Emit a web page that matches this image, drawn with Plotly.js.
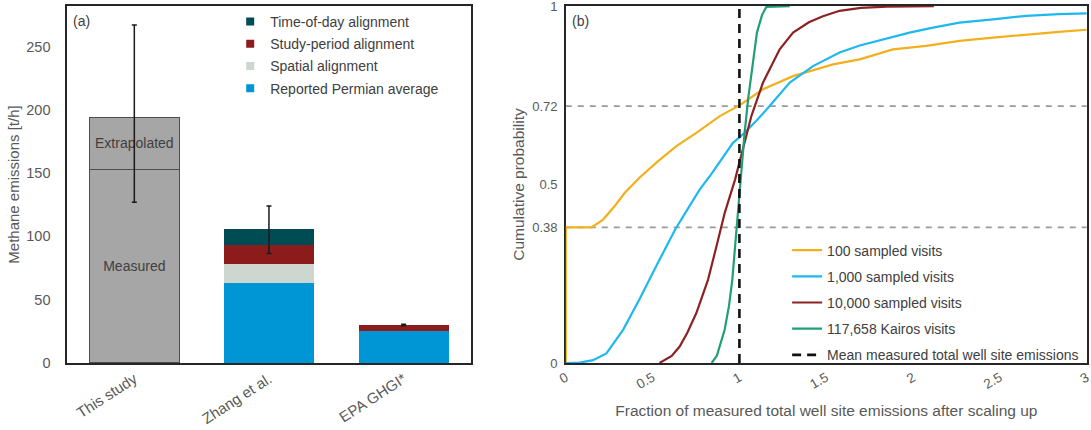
<!DOCTYPE html>
<html>
<head>
<meta charset="utf-8">
<script src="https://cdn.plot.ly/plotly-3.0.1.min.js"></script>
<style>html,body{margin:0;padding:0;background:#fff;}#chart{width:1091px;height:430px;}</style>
</head>
<body>
<div id="chart"></div>
<script>
// ---------- Panel (a) data ----------
const barCats = ['This study', 'Zhang et al.', 'EPA GHGI*'];
const measured = [153, null, null];
const extrapolated = [41, null, null];
const reportedPermian = [null, 63, 25];
const spatialAlign = [null, 15, 0];
const studyPeriodAlign = [null, 15, 5];
const timeOfDayAlign = [null, 13, 0];
const barTotals = [194, 106, 30];
const errPlus = [73, 18, 0.6];
const errMinus = [67, 19.5, 0.6];
const yTicksA = [0, 50, 100, 150, 200, 250];

// ---------- Panel (b) data ----------
const x100 = [0, 0, 0.08, 0.148, 0.215, 0.282, 0.34, 0.426, 0.53, 0.637, 0.752, 0.887, 1.0, 1.136, 1.309, 1.539, 1.693, 1.884, 2.076, 2.268, 2.46, 2.652, 2.84, 3.0];
const y100 = [0, 0.38, 0.38, 0.38, 0.402, 0.44, 0.477, 0.52, 0.565, 0.608, 0.645, 0.692, 0.722, 0.767, 0.804, 0.837, 0.851, 0.879, 0.889, 0.903, 0.912, 0.921, 0.928, 0.934];
const x1000 = [0, 0.08, 0.157, 0.234, 0.33, 0.426, 0.53, 0.63, 0.70, 0.771, 0.839, 0.963, 1.03, 1.10, 1.174, 1.29, 1.424, 1.577, 1.693, 1.827, 1.98, 2.115, 2.268, 2.46, 2.652, 2.84, 3.0];
const y1000 = [0, 0.001, 0.008, 0.027, 0.093, 0.18, 0.28, 0.374, 0.43, 0.486, 0.53, 0.617, 0.645, 0.68, 0.72, 0.786, 0.832, 0.87, 0.89, 0.907, 0.926, 0.94, 0.954, 0.963, 0.973, 0.978, 0.98];
const x10000 = [0.54, 0.57, 0.61, 0.656, 0.70, 0.752, 0.819, 0.868, 0.915, 0.975, 1.021, 1.069, 1.136, 1.232, 1.309, 1.40, 1.481, 1.577, 1.70, 1.85, 2.12];
const y10000 = [0, 0.008, 0.02, 0.046, 0.085, 0.14, 0.233, 0.327, 0.42, 0.514, 0.598, 0.692, 0.786, 0.879, 0.926, 0.955, 0.972, 0.987, 0.995, 0.999, 1.0];
const xKairos = [0.84, 0.87, 0.915, 0.94, 0.959, 0.982, 1.0, 1.011, 1.03, 1.05, 1.075, 1.101, 1.13, 1.155, 1.29];
const yKairos = [0, 0.02, 0.093, 0.16, 0.233, 0.374, 0.48, 0.551, 0.645, 0.739, 0.832, 0.926, 0.975, 0.998, 1.0];
const refLevels = [0.38, 0.72];
const xRange = [0, 3];
const meanX = [1, 1];
const meanY = [0, 1];
const yTicksB = [0, 0.38, 0.5, 0.72, 1];
const yTickTextB = ['0', '0.38', '0.5', '0.72', '1'];
const xTicksB = [0, 0.5, 1, 1.5, 2, 2.5, 3];
const xTickTextB = ['0', '0.5', '1', '1.5', '2', '2.5', '3'];

const FONT = 'Liberation Sans, Arial, sans-serif';
const GRAY_TXT = '#595959';
const C = {
  tod: '#004c54', sp: '#8c1c1c', spa: '#cdd6cf', rep: '#0096d6', study: '#a6a6a6',
  c100: '#f2b01e', c1000: '#1fb8ee', c10000: '#8c2222', cK: '#1f9e78'
};

const traces = [];
// This study (measured + extrapolated)
traces.push({type: 'bar', x: barCats, y: measured, text: ['Measured', '', ''], textposition: 'inside', insidetextanchor: 'middle',
  constraintext: 'none', textfont: {family: FONT, size: 14, color: '#404040'},
  marker: {color: C.study, line: {color: '#4d4d4d', width: 1.3}}, width: 0.67, showlegend: false, hoverinfo: 'skip'});
traces.push({type: 'bar', x: barCats, y: extrapolated, text: ['Extrapolated', '', ''], textposition: 'inside', insidetextanchor: 'middle',
  constraintext: 'none', textfont: {family: FONT, size: 14, color: '#404040'},
  marker: {color: C.study, line: {color: '#4d4d4d', width: 1.3}}, width: 0.67, showlegend: false, hoverinfo: 'skip'});
// stacked components
const comps = [
  {y: reportedPermian, c: C.rep},
  {y: spatialAlign, c: C.spa},
  {y: studyPeriodAlign, c: C.sp},
  {y: timeOfDayAlign, c: C.tod}
];
comps.forEach(o => traces.push({type: 'bar', x: barCats, y: o.y, marker: {color: o.c, line: {width: 0}}, width: 0.67, showlegend: false}));
// error bars
traces.push({type: 'scatter', mode: 'markers', x: barCats, y: barTotals, marker: {size: 1, color: 'rgba(0,0,0,0)'},
  error_y: {type: 'data', symmetric: false, array: errPlus, arrayminus: errMinus, color: '#1a1a1a', thickness: 1.5, width: 2.5},
  showlegend: false, hoverinfo: 'skip'});
// legend proxies (a)
const legA = [
  ['Time-of-day alignment', C.tod],
  ['Study-period alignment', C.sp],
  ['Spatial alignment', C.spa],
  ['Reported Permian average', C.rep]
];
legA.forEach((l, i) => traces.push({type: 'scatter', mode: 'markers', x: [null], y: [null], name: l[0], legend: 'legend', legendgroup: 'a' + i,
  marker: {symbol: 'square', size: 8, color: l[1]}}));

// Panel (b)
refLevels.forEach(v => traces.push({type: 'scatter', mode: 'lines', x: xRange, y: [v, v], xaxis: 'x2', yaxis: 'y2',
  line: {color: '#9a9a9a', width: 1.6, dash: '6px,6px'}, showlegend: false, hoverinfo: 'skip'}));
const curves = [
  ['100 sampled visits', x100, y100, C.c100],
  ['1,000 sampled visits', x1000, y1000, C.c1000],
  ['10,000 sampled visits', x10000, y10000, C.c10000],
  ['117,658 Kairos visits', xKairos, yKairos, C.cK]
];
curves.forEach((c, i) => traces.push({type: 'scatter', mode: 'lines', x: c[1], y: c[2], name: c[0], xaxis: 'x2', yaxis: 'y2',
  legend: 'legend2', legendgroup: 'b' + i, line: {color: c[3], width: 2.2}, cliponaxis: false}));
traces.push({type: 'scatter', mode: 'lines', x: meanX, y: meanY, name: 'Mean measured total well site emissions', xaxis: 'x2', yaxis: 'y2',
  legend: 'legend2', legendgroup: 'b9', line: {color: '#111', width: 2.6, dash: '9px,6px'}});

const axBase = {showline: true, mirror: true, linecolor: '#262626', linewidth: 1.6, showgrid: false, zeroline: false, ticks: '',
  tickfont: {family: FONT, size: 14.5, color: GRAY_TXT}, ticklabeloverflow: 'allow'};

const layout = {
  width: 1091, height: 430,
  margin: {l: 67, r: 4, t: 6, b: 67},
  paper_bgcolor: '#fff', plot_bgcolor: '#fff',
  font: {family: FONT, color: GRAY_TXT},
  barmode: 'stack',
  xaxis: Object.assign({}, axBase, {domain: [0, 0.396], type: 'category', tickangle: -33, range: [-0.5, 2.5],
    tickfont: {family: FONT, size: 15, color: GRAY_TXT}}),
  yaxis: Object.assign({}, axBase, {range: [0, 282], tickvals: yTicksA, ticklabelstandoff: 12,
    title: {text: 'Methane emissions [t/h]', font: {family: FONT, size: 15, color: GRAY_TXT}, standoff: 3}}),
  xaxis2: Object.assign({}, axBase, {domain: [0.489, 1], anchor: 'y2', range: [0, 3.002], tickmode: 'array', tickvals: xTicksB, ticktext: xTickTextB, tickangle: -30,
    tickfont: {family: FONT, size: 13.5, color: GRAY_TXT},
    title: {text: 'Fraction of measured total well site emissions after scaling up', font: {family: FONT, size: 15.5, color: GRAY_TXT}, standoff: 14}}),
  yaxis2: Object.assign({}, axBase, {anchor: 'x2', range: [0, 1.0005], tickmode: 'array', tickvals: yTicksB, ticktext: yTickTextB, layer: 'below traces',
    tickfont: {family: FONT, size: 13, color: GRAY_TXT}, ticklabelstandoff: 4,
    title: {text: 'Cumulative probability', font: {family: FONT, size: 15.5, color: GRAY_TXT}, standoff: 4}}),
  legend: {x: 0.160, xanchor: 'left', y: 1.0, yanchor: 'top', bgcolor: 'rgba(0,0,0,0)', traceorder: 'grouped', tracegroupgap: 1,
    font: {family: FONT, size: 14, color: '#404040'}, borderwidth: 0},
  legend2: {x: 0.706, xanchor: 'left', y: 0.360, yanchor: 'top', bgcolor: 'rgba(0,0,0,0)', traceorder: 'grouped', tracegroupgap: 5,
    font: {family: FONT, size: 14, color: '#404040'}, borderwidth: 0},
  annotations: [
    {text: '(a)', xref: 'paper', yref: 'paper', x: 0.004, y: 0.985, xanchor: 'left', yanchor: 'top', showarrow: false,
      font: {family: FONT, size: 14, color: '#404040'}},
    {text: '(b)', xref: 'paper', yref: 'paper', x: 0.493, y: 0.985, xanchor: 'left', yanchor: 'top', showarrow: false,
      font: {family: FONT, size: 14, color: '#404040'}}
  ]
};

Plotly.newPlot('chart', traces, layout, {staticPlot: true, displayModeBar: false});
</script>
</body>
</html>
